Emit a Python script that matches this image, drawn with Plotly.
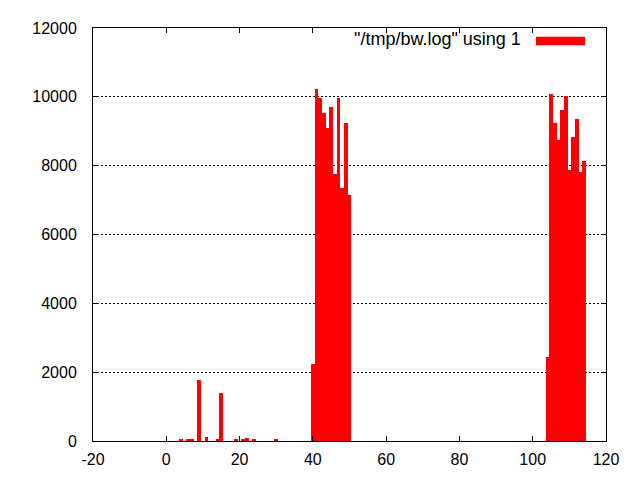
import plotly.graph_objs as go

# sample index -> bandwidth value
bar_x = [4, 6, 7, 9, 11, 14, 15, 19, 21, 22, 24, 30,
         40, 41, 42, 43, 44, 45, 46, 47, 48, 49, 50,
         104, 105, 106, 107, 108, 109, 110, 111, 112, 113, 114]
bar_y = [50, 50, 50, 1770, 120, 50, 1400, 50, 50, 90, 50, 50,
         2230, 10230, 9970, 9540, 9090, 9710, 7770, 9970, 7360, 9250, 7160,
         2440, 10090, 9230, 8740, 9630, 10030, 7880, 8820, 9370, 7820, 8140]

x_ticks = [-20, 0, 20, 40, 60, 80, 100, 120]
y_ticks = [0, 2000, 4000, 6000, 8000, 10000, 12000]
legend_label = '"/tmp/bw.log" using 1'

font = dict(family="Liberation Sans, Arial, sans-serif", size=16, color="black")

fig = go.Figure()
fig.add_trace(go.Bar(
    x=bar_x,
    y=bar_y,
    width=1,
    marker=dict(color="#ff0000", line=dict(width=0)),
    name=legend_label,
    showlegend=False,
))

# page body adds an 8px offset, margins account for it
fig.update_layout(
    width=640,
    height=480,
    margin=dict(l=85, r=42, t=14, b=47),
    plot_bgcolor="white",
    paper_bgcolor="white",
    font=font,
    bargap=0,
)
fig.update_xaxes(
    range=[-20, 120],
    tickvals=x_ticks,
    ticktext=[str(v) for v in x_ticks],
    ticks="inside",
    ticklen=5,
    tickcolor="black",
    showline=True,
    linecolor="black",
    linewidth=1,
    mirror="ticks",
    showgrid=False,
    zeroline=False,
    ticklabelstandoff=4,
)
fig.update_yaxes(
    range=[0, 12000],
    tickvals=y_ticks,
    ticktext=[str(v) for v in y_ticks],
    ticks="inside",
    ticklen=5,
    tickcolor="black",
    showline=True,
    linecolor="black",
    linewidth=1,
    mirror="ticks",
    showgrid=True,
    gridcolor="black",
    gridwidth=1,
    griddash="2px,2px",
    zeroline=False,
    ticklabelstandoff=12,
)

# gnuplot-style key: label on the left, sample box on the right
fig.add_annotation(
    xref="paper", yref="paper", x=(523 - 93) / 513, y=(441 - 33) / 419,
    text=legend_label, showarrow=False, xanchor="right", yanchor="middle",
    font=dict(family=font["family"], size=18, color="black"),
)
fig.add_shape(
    type="rect", xref="paper", yref="paper",
    x0=(536 - 93) / 513, x1=(585 - 93) / 513,
    y0=(441 - 39.5) / 419, y1=(441 - 31) / 419,
    fillcolor="#ff0000", line=dict(width=0),
)

fig.write_html("out.html")
